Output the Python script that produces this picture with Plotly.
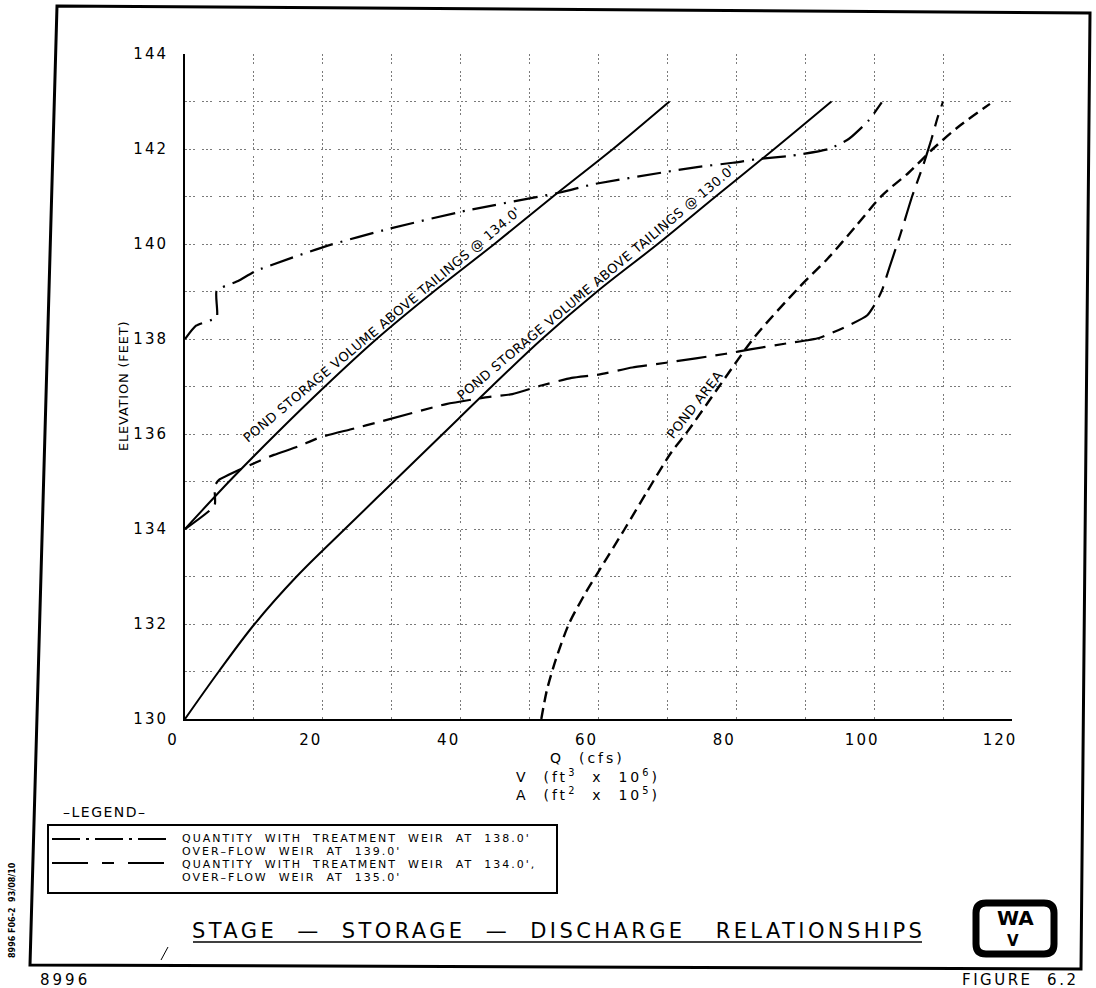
import plotly.graph_objects as go

# ---------------- data ----------------
vol134_elev = [134, 135, 136, 137, 138, 139, 140, 141, 142, 143]
vol134 = [0, 6.4, 13.2, 20.3, 27.8, 36.1, 44.9, 53.4, 62.1, 70.3]

vol130_elev = [130, 131, 132, 133, 134, 135, 136, 137, 138, 139, 140, 141, 142, 143]
vol130 = [0, 4.9, 10.1, 16.2, 23.2, 30.3, 37.4, 44.5, 51.8, 59.8, 68.6, 77.0, 85.5, 93.8]

q138 = [0, 1.6, 4.6, 4.6, 7.7, 10.4, 20.6, 29.6, 40.7, 54.6, 59.3, 69.5, 74.3,
        79.5, 83.1, 88.1, 93.4, 96.3, 99.2, 101.1]
q138_elev = [138.0, 138.28, 138.46, 139.02, 139.22, 139.44, 139.96, 140.32, 140.7,
             141.09, 141.26, 141.51, 141.62, 141.71, 141.79, 141.86, 142.0, 142.21,
             142.6, 142.98]

q134 = [0, 4.3, 4.3, 4.9, 8.7, 12.9, 16.3, 19.6, 24.1, 28.6, 37.9, 43.6, 47.5, 51.7,
        56.1, 60.0, 64.9, 69.8, 78.5, 82.0, 87.0, 92.0, 96.5, 99.0, 100.4, 101.2,
        102.2, 103.8, 105.5, 107.1, 108.3, 109.2, 110.0]
q134_elev = [134.0, 134.5, 134.9, 135.03, 135.3, 135.56, 135.73, 135.93, 136.1,
             136.27, 136.63, 136.77, 136.84, 137.02, 137.18, 137.25, 137.4, 137.5,
             137.69, 137.78, 137.9, 138.02, 138.3, 138.5, 138.8, 139.05, 139.5,
             140.2, 141.0, 141.65, 142.2, 142.66, 143.0]

area = [51.7, 52.5, 53.8, 55.7, 58.1, 60.2, 63.8, 67.1, 70.5, 72.9, 77.5, 82.7,
        89.0, 93.3, 97.2, 101.2, 105.0, 108.5, 112.5, 116.8]
area_elev = [130.0, 130.6, 131.25, 132.0, 132.65, 133.15, 134.0, 134.8, 135.6,
             136.05, 137.0, 138.05, 139.07, 139.7, 140.35, 141.03, 141.5, 142.0,
             142.5, 142.95]

x_ticks = [0, 20, 40, 60, 80, 100, 120]
y_ticks = [130, 132, 134, 136, 138, 140, 142, 144]

legend_rows = [
    ["QUANTITY  WITH  TREATMENT  WEIR  AT  138.0'", "OVER–FLOW  WEIR  AT  139.0'"],
    ["QUANTITY  WITH  TREATMENT  WEIR  AT  134.0',", "OVER–FLOW  WEIR  AT  135.0'"],
]
label_vol134 = "POND STORAGE VOLUME ABOVE TAILINGS @ 134.0'"
label_vol130 = "POND STORAGE VOLUME ABOVE TAILINGS @ 130.0'"
label_area = "POND AREA"
title_text = "STAGE  —  STORAGE  —  DISCHARGE   RELATIONSHIPS"

# ---------------- layout geometry ----------------
W, H = 1096, 988
L, R, T, B = 185, 84, 54, 269
PW, PH = W - L - R, H - T - B
FONT = "DejaVu Sans"


def fx(p):
    return (p - L) / PW


def fy(p):
    return (H - B - p) / PH


def sp(text, ls):
    return f'<span style="letter-spacing:{ls}px">{text}</span>'


fig = go.Figure()
fig.add_trace(go.Scatter(x=vol134, y=vol134_elev, mode="lines",
                         line=dict(color="black", width=2, shape="spline", smoothing=0.8),
                         showlegend=False))
fig.add_trace(go.Scatter(x=vol130, y=vol130_elev, mode="lines",
                         line=dict(color="black", width=2, shape="spline", smoothing=1.0),
                         showlegend=False))
fig.add_trace(go.Scatter(x=q138, y=q138_elev, mode="lines",
                         line=dict(color="black", width=2.2, dash="24px,8px,2px,8px",
                                   shape="spline", smoothing=0.5),
                         showlegend=False))
fig.add_trace(go.Scatter(x=q134, y=q134_elev, mode="lines",
                         line=dict(color="black", width=2.2, dash="30px,9px,12px,9px",
                                   shape="spline", smoothing=0.5),
                         showlegend=False))
fig.add_trace(go.Scatter(x=area, y=area_elev, mode="lines",
                         line=dict(color="black", width=2.4, dash="11px,6px",
                                   shape="spline", smoothing=0.8),
                         showlegend=False))

grid_dash = "2px,2px,2px,2px,2px,7px"
grid_col = "#7a7a7a"

fig.update_xaxes(range=[0, 120], showline=True, linecolor="black", linewidth=2,
                 tickmode="array", tickvals=x_ticks,
                 ticktext=[sp(str(v), 2) for v in x_ticks],
                 ticks="", ticklabelstandoff=6, ticklabelshift=-12,
                 tickfont=dict(family=FONT, size=15, color="black"),
                 showgrid=True, gridcolor=grid_col, griddash=grid_dash, gridwidth=1,
                 minor=dict(dtick=10, tick0=0, showgrid=True, gridcolor=grid_col,
                            griddash=grid_dash, gridwidth=1),
                 zeroline=False, fixedrange=True)
fig.update_yaxes(range=[130, 144], showline=True, linecolor="black", linewidth=2,
                 tickmode="array", tickvals=y_ticks,
                 ticktext=[sp(str(v), 2) for v in y_ticks],
                 ticks="", ticklabelstandoff=12,
                 tickfont=dict(family=FONT, size=15, color="black"),
                 showgrid=True, gridcolor=grid_col, griddash=grid_dash, gridwidth=1,
                 minor=dict(dtick=1, tick0=130, showgrid=True, gridcolor=grid_col,
                            griddash=grid_dash, gridwidth=1),
                 zeroline=False, fixedrange=True)

ann = []


def add_text(text, x, y, size, angle=0, xanchor="center", ls=0, ref="paper", bold=False):
    t = text
    if bold:
        t = f"<b>{t}</b>"
    if ls:
        t = sp(t, ls)
    ann.append(dict(text=t, x=x, y=y, xref=ref if ref == "paper" else "x",
                    yref=ref if ref == "paper" else "y", showarrow=False,
                    textangle=angle, xanchor=xanchor, yanchor="middle",
                    font=dict(family=FONT, size=size, color="black")))


# curve labels (data coordinates)
add_text(label_vol134, 28.6, 138.31, 13, angle=-40, ls=0.5, ref="data")
add_text(label_vol130, 59.6, 139.2, 13, angle=-40, ls=0.5, ref="data")
add_text(label_area, 74.0, 136.62, 13, angle=-52, ls=0.5, ref="data")

# axis titles
add_text("ELEVATION (FEET)", fx(124), fy(386), 13, angle=-90, ls=0.8)
add_text("Q  (cfs)", fx(587), fy(758), 14, ls=3)
add_text("V  (ft<sup>3</sup>  x  10<sup>6</sup>)", fx(588), fy(776), 14, ls=3)
add_text("A  (ft<sup>2</sup>  x  10<sup>5</sup>)", fx(588), fy(794), 14, ls=3)

# legend
add_text("–LEGEND–", fx(61), fy(812), 14, xanchor="left", ls=1.5)
row_y = [(838, 851), (864, 877)]
for (l1, l2), (y1, y2) in zip(legend_rows, row_y):
    add_text(l1, fx(180), fy(y1), 11, xanchor="left", ls=2)
    add_text(l2, fx(180), fy(y2), 11, xanchor="left", ls=2)

# title and footer texts
add_text(title_text, fx(558), fy(931), 21, ls=3.4)
add_text("8996", fx(38), fy(980), 15, xanchor="left", ls=3)
add_text("FIGURE  6.2", fx(1020), fy(980), 15, ls=2.5)
add_text("8996 F06-2  93/08/10", fx(12), fy(910), 8, angle=-90, bold=True)
add_text("WA", fx(1015), fy(918), 20, bold=True)
add_text("V", fx(1013), fy(941), 15, bold=True)

shapes = []


def pline(x0, y0, x1, y1, width=1.5, dash="solid"):
    shapes.append(dict(type="line", xref="paper", yref="paper",
                       x0=fx(x0), y0=fy(y0), x1=fx(x1), y1=fy(y1),
                       line=dict(color="black", width=width, dash=dash)))


# outer frame (slightly skewed like the scanned sheet)
frame = [(57, 6), (1090, 13), (1081, 969), (30, 965)]
path = "M " + " L ".join(f"{fx(a):.5f},{fy(b):.5f}" for a, b in frame) + " Z"
shapes.append(dict(type="path", xref="paper", yref="paper", path=path,
                   line=dict(color="black", width=3)))

# legend box and samples
shapes.append(dict(type="rect", xref="paper", yref="paper",
                   x0=fx(48), y0=fy(893), x1=fx(557), y1=fy(825),
                   line=dict(color="black", width=2)))
pline(52, 839, 170, 839, width=2, dash="28px,6px,3px,6px")
pline(52, 863, 170, 863, width=2, dash="36px,14px,12px,14px")

# title underline
pline(193, 942, 922, 942, width=1.5)

# stray pen mark
pline(161, 960, 168, 947, width=1)

# logo: rounded box
x0, y0, x1, y1, r = 976, 903, 1054, 954, 10
rx, ry = r / PW, r / PH
X0, X1, Y0, Y1 = fx(x0), fx(x1), fy(y1), fy(y0)
logo = (f"M {X0 + rx},{Y1} L {X1 - rx},{Y1} Q {X1},{Y1} {X1},{Y1 - ry} "
        f"L {X1},{Y0 + ry} Q {X1},{Y0} {X1 - rx},{Y0} L {X0 + rx},{Y0} "
        f"Q {X0},{Y0} {X0},{Y0 + ry} L {X0},{Y1 - ry} Q {X0},{Y1} {X0 + rx},{Y1} Z")
shapes.append(dict(type="path", xref="paper", yref="paper", path=logo,
                   line=dict(color="black", width=7)))

fig.update_layout(width=W, height=H, margin=dict(l=L, r=R, t=T, b=B),
                  paper_bgcolor="white", plot_bgcolor="white",
                  annotations=ann, shapes=shapes, showlegend=False,
                  font=dict(family=FONT, color="black"))

fig.write_html("out.html", config={"displayModeBar": False})
